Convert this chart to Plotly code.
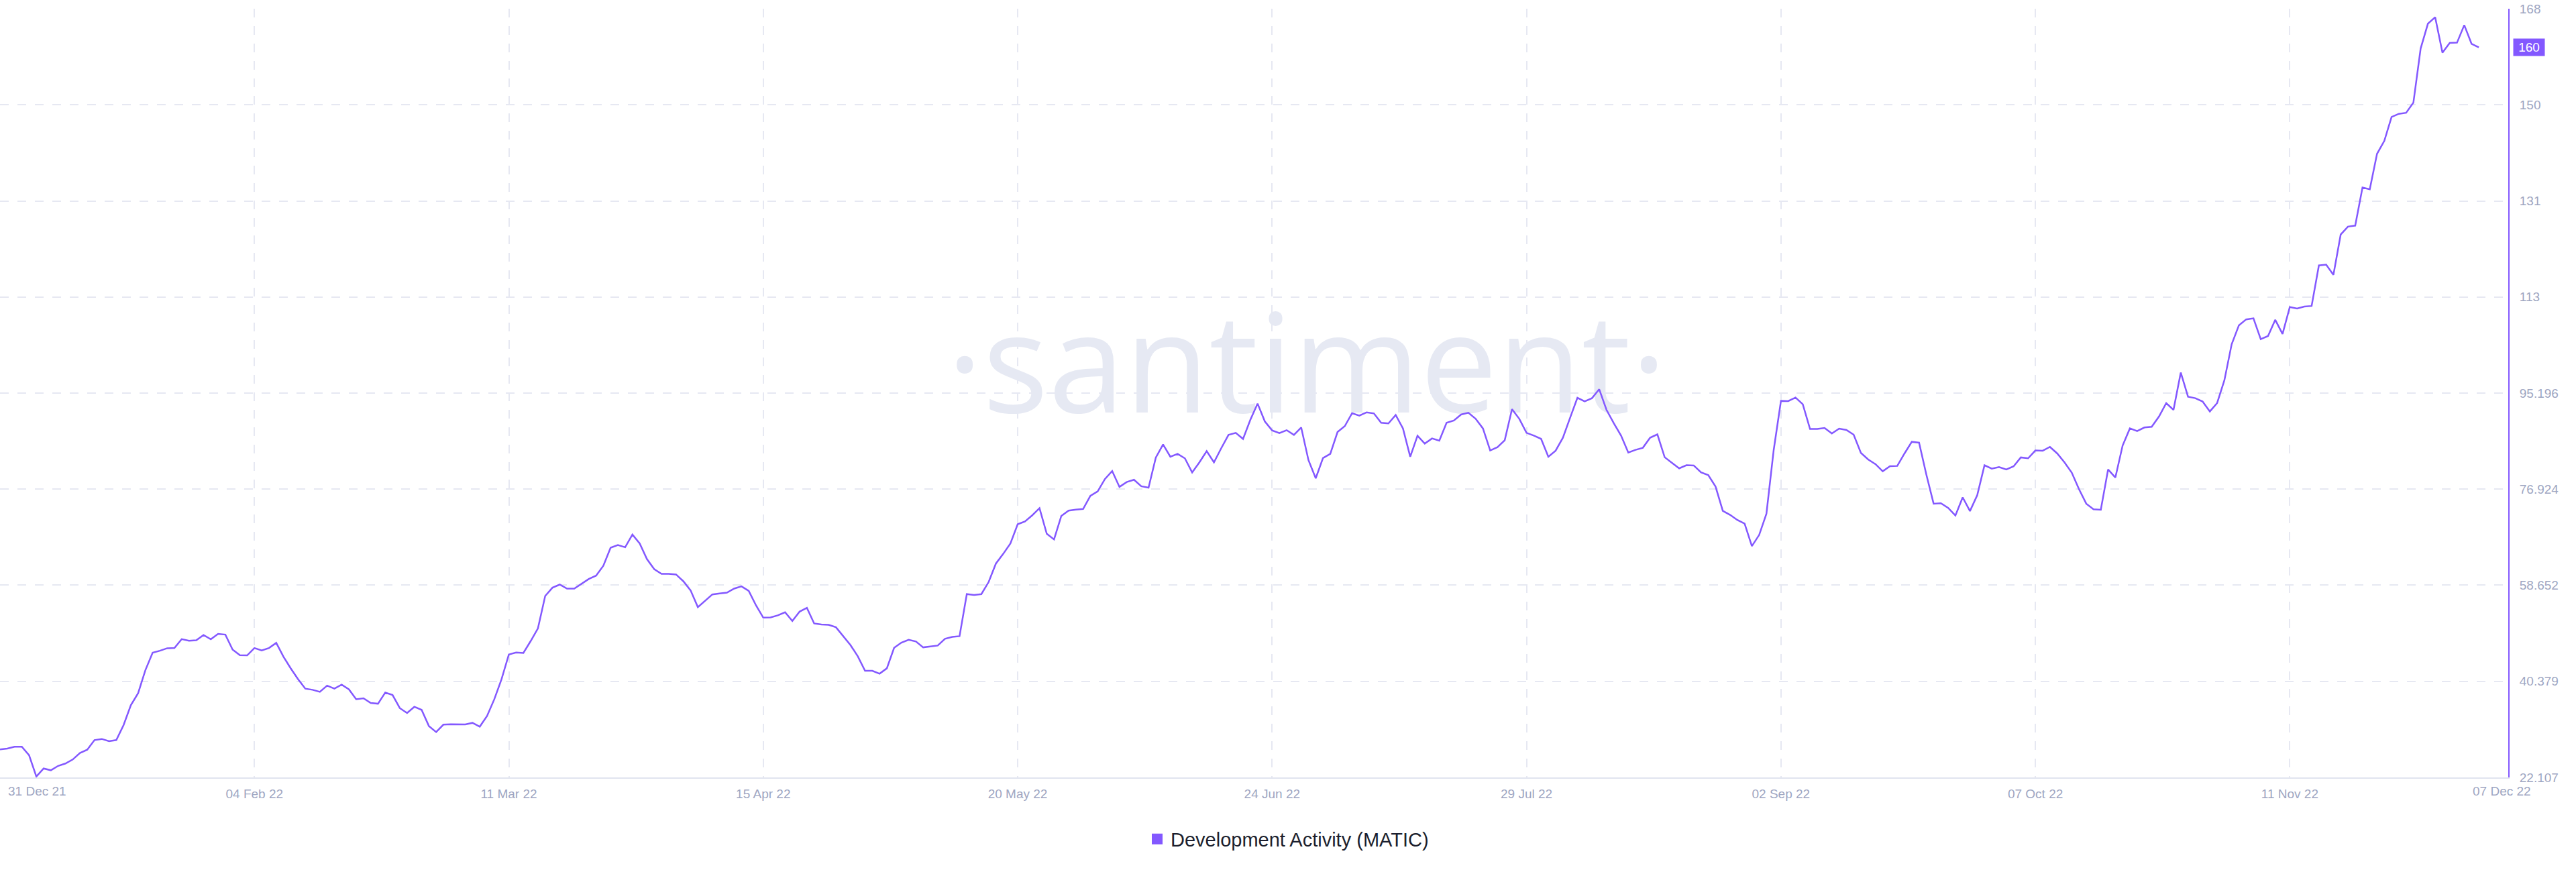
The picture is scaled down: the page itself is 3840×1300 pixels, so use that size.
import pandas as pd
import plotly.graph_objects as go

# ---------------- data ----------------
START_DATE = "2021-12-31"
dev_activity = [
    27.43, 27.59, 27.94, 27.94, 26.32, 22.27, 23.80, 23.47, 24.30, 24.75,
    25.51, 26.74, 27.38, 29.21, 29.42, 29.00, 29.21, 32.06, 35.83, 38.13,
    42.50, 45.82, 46.20, 46.67, 46.71, 48.41, 48.11, 48.20, 49.18, 48.37,
    49.39, 49.26, 46.41, 45.35, 45.31, 46.71, 46.24, 46.71, 47.69, 45.05,
    42.84, 40.80, 38.98, 38.77, 38.38, 39.57, 38.98, 39.74, 38.85, 36.98,
    37.15, 36.26, 36.13, 38.25, 37.79, 35.28, 34.35, 35.54, 34.95, 31.88,
    30.73, 32.14, 32.22, 32.18, 32.18, 32.48, 31.76, 33.79, 36.98, 40.80,
    45.48, 45.86, 45.78, 48.03, 50.45, 56.61, 58.19, 58.78, 58.01, 58.01,
    58.91, 59.84, 60.48, 62.35, 65.79, 66.30, 65.88, 68.30, 66.60, 63.62,
    61.71, 60.82, 60.82, 60.70, 59.42, 57.68, 54.49, 55.68, 56.91, 57.08,
    57.25, 58.02, 58.44, 57.59, 54.83, 52.49, 52.54, 52.92, 53.51, 51.86,
    53.64, 54.36, 51.39, 51.18, 51.13, 50.66, 48.97, 47.27, 45.14, 42.38,
    42.38, 41.83, 42.85, 46.76, 47.74, 48.29, 47.95, 46.84, 47.01, 47.18,
    48.46, 48.84, 48.97, 56.96, 56.79, 56.96, 59.25, 62.77, 64.60, 66.60,
    70.26, 70.77, 71.95, 73.31, 68.43, 67.37, 71.83, 72.85, 73.02, 73.15,
    75.65, 76.50, 78.84, 80.37, 77.35, 78.28, 78.71, 77.48, 77.22, 82.92,
    85.42, 83.09, 83.64, 82.79, 80.11, 82.03, 84.15, 82.03, 84.70, 87.25,
    87.63, 86.48, 90.10, 93.20, 89.80, 88.10, 87.59, 88.14, 87.25, 88.65,
    82.45, 79.00, 82.83, 83.64, 87.80, 88.91, 91.37, 90.90, 91.54, 91.33,
    89.54, 89.42, 91.03, 88.48, 83.09, 87.08, 85.59, 86.57, 86.15, 89.54,
    89.97, 91.12, 91.46, 90.31, 88.48, 84.28, 84.91, 86.23, 92.14, 90.31,
    87.63, 87.12, 86.49, 83.09, 84.23, 86.70, 90.52, 94.30, 93.62, 94.22,
    95.92, 92.01, 89.46, 87.12, 83.89, 84.40, 84.79, 86.70, 87.34, 83.00,
    81.94, 80.88, 81.47, 81.43, 80.11, 79.60, 77.43, 72.80, 72.04, 71.06,
    70.38, 66.09, 68.21, 72.25, 84.36, 93.71, 93.67, 94.35, 93.07, 88.36,
    88.36, 88.57, 87.51, 88.44, 88.19, 87.29, 83.81, 82.57, 81.68, 80.32,
    81.30, 81.34, 83.72, 85.93, 85.76, 79.69, 74.16, 74.25, 73.36, 71.91,
    75.36, 72.76, 75.78, 81.47, 80.83, 81.13, 80.66, 81.26, 82.96, 82.79,
    84.28, 84.23, 84.96, 83.72, 82.02, 80.07, 76.92, 74.16, 73.10, 73.01,
    80.66, 79.13, 85.21, 88.48, 87.97, 88.65, 88.78, 90.73, 93.28, 92.01,
    99.10, 94.50, 94.23, 93.60, 91.70, 93.30, 97.63, 104.47, 108.09, 109.21,
    109.41, 105.45, 106.04, 109.12, 106.43, 111.56, 111.27, 111.66, 111.76, 119.47,
    119.62, 117.67, 125.34, 126.85, 127.05, 134.30, 133.95, 140.70, 143.15, 147.70,
    148.30, 148.50, 150.42, 160.72, 165.44, 166.67, 159.92, 161.79, 161.83, 165.18,
    161.62, 160.94,
]
dates = pd.date_range(START_DATE, periods=len(dev_activity), freq="D")

x_tick_dates = ["2021-12-31", "2022-02-04", "2022-03-11", "2022-04-15", "2022-05-20",
                "2022-06-24", "2022-07-29", "2022-09-02", "2022-10-07", "2022-11-11"]
x_tick_labels = ["", "04 Feb 22", "11 Mar 22", "15 Apr 22", "20 May 22",
                 "24 Jun 22", "29 Jul 22", "02 Sep 22", "07 Oct 22", "11 Nov 22"]
first_date_label = "31 Dec 21"
last_date_label = "07 Dec 22"

y_tick_values = [22.107, 40.379, 58.652, 76.924, 95.196, 113.469, 131.741, 150.013, 168.286]
y_tick_labels = ["22.107", "40.379", "58.652", "76.924", "95.196", "113", "131", "150", "168"]
last_value_label = "160"
series_name = "Development Activity (MATIC)"
watermark_text = "\u00b7santiment\u00b7"

# ---------------- style ----------------
PURPLE = "#8358ff"
GRID = "#e6e8f2"
TICK = "#9ea6c2"
FONT = "Liberation Sans, Arial, sans-serif"

x_range = [pd.Timestamp("2021-12-31"), pd.Timestamp("2022-12-11 01:12")]
y_range = [y_tick_values[0] - 0.001, y_tick_values[-1] + 0.001]

# watermark position (fractions of the plot area)
wm_fx, wm_fy = 0.521, 0.519
wm_x = x_range[0] + (x_range[1] - x_range[0]) * wm_fx
wm_y = y_range[0] + (y_range[1] - y_range[0]) * wm_fy

fig = go.Figure()

fig.add_trace(go.Scatter(
    x=[wm_x], y=[wm_y], mode="text", text=[watermark_text],
    textposition="middle center",
    textfont=dict(family="Open Sans, sans-serif", size=205, color="#e6e9f3"),
    hoverinfo="skip", showlegend=False,
))

fig.add_trace(go.Scatter(
    x=dates, y=dev_activity, mode="lines",
    line=dict(color=PURPLE, width=2.5),
    name=series_name, showlegend=False,
))

# legend entry with square symbol
fig.add_trace(go.Scatter(
    x=[None], y=[None], mode="markers",
    marker=dict(symbol="square", size=17, color=PURPLE),
    name=series_name, showlegend=True,
))

fig.update_layout(
    width=3840, height=1300,
    margin=dict(l=0, r=101, t=13, b=141, pad=0),
    paper_bgcolor="white", plot_bgcolor="white",
    font=dict(family=FONT, color=TICK, size=19),
    xaxis=dict(
        type="date", range=x_range,
        tickmode="array", tickvals=x_tick_dates, ticktext=x_tick_labels,
        showgrid=True, gridcolor=GRID, gridwidth=2, griddash="13px,13px",
        showline=True, linecolor="#e1e4ef", linewidth=2,
        ticks="", zeroline=False,
        tickfont=dict(size=19, color=TICK, family=FONT),
        ticklabelstandoff=6,
    ),
    yaxis=dict(
        side="right", range=y_range,
        tickmode="array", tickvals=y_tick_values, ticktext=y_tick_labels,
        showgrid=True, gridcolor=GRID, gridwidth=2, griddash="13px,13px",
        showline=True, linecolor=PURPLE, linewidth=2,
        ticks="", zeroline=False,
        tickfont=dict(size=19, color=TICK, family=FONT),
        ticklabelstandoff=11,
    ),
    legend=dict(
        orientation="h", xref="container", yref="container",
        x=0.5, xanchor="center", y=1 - 1251 / 1300, yanchor="middle",
        font=dict(size=29, color="#1c1f2e", family=FONT),
        bgcolor="rgba(0,0,0,0)", itemclick=False,
    ),
    showlegend=True,
    hovermode="x",
)

# end labels of the date axis
fig.add_annotation(xref="paper", yref="paper", x=0, y=0, xanchor="left", yanchor="middle",
                   xshift=10, yshift=-20, text=first_date_label, showarrow=False,
                   font=dict(size=19, color=TICK, family=FONT))
fig.add_annotation(xref="paper", yref="paper", x=1, y=0, xanchor="right", yanchor="middle",
                   xshift=36, yshift=-20, text=last_date_label, showarrow=False,
                   font=dict(size=19, color=TICK, family=FONT))

# last value badge
fig.add_annotation(xref="paper", yref="y", x=1, y=dev_activity[-1], xanchor="left", yanchor="middle",
                   xshift=7, text=last_value_label, showarrow=False,
                   bgcolor=PURPLE, width=40, height=19, borderpad=3, align="center",
                   font=dict(size=19, color="white", family=FONT))

fig.write_html("out.html", config={"displayModeBar": False},
               post_script="document.body.style.margin='0';")
